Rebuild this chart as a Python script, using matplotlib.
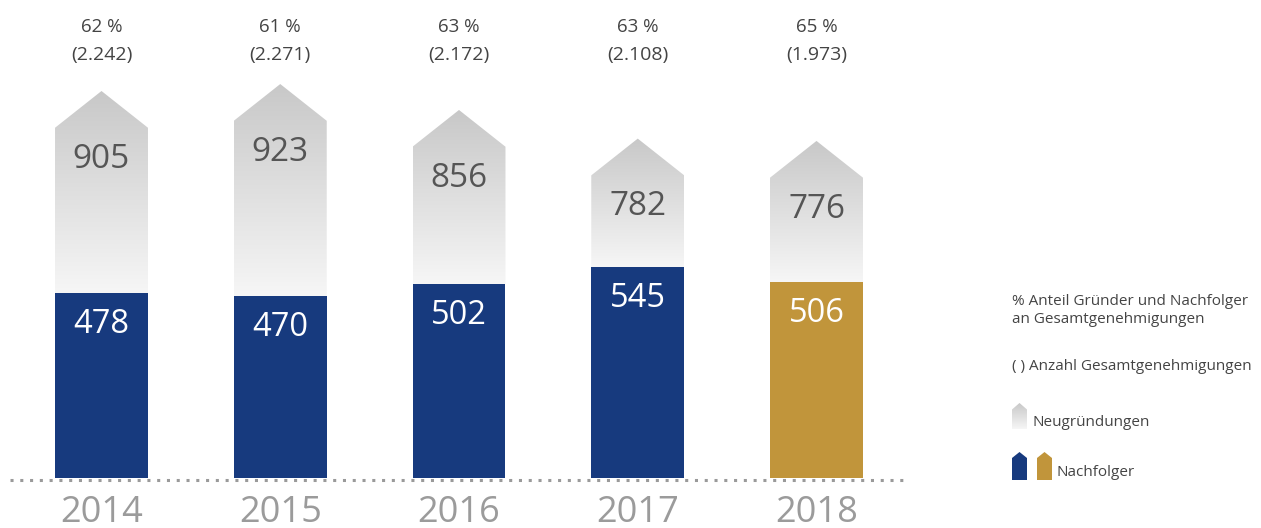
import matplotlib
matplotlib.use('Agg')
import matplotlib.pyplot as plt
import numpy as np
from matplotlib.patches import Polygon
from matplotlib.colors import LinearSegmentedColormap

years = ['2014', '2015', '2016', '2017', '2018']
neugruendungen = [905, 923, 856, 782, 776]
nachfolger = [478, 470, 502, 545, 506]
anteil = ['62 %', '61 %', '63 %', '63 %', '65 %']
gesamt = ['(2.242)', '(2.271)', '(2.172)', '(2.108)', '(1.973)']

plt.rcParams['font.family'] = ['Open Sans', 'DejaVu Sans']

W, H = 1261, 528
px = 0.387          # pixels per unit
base_px = 478       # baseline, pixels from top
step_px = 178.75    # pixels between bar centres
first_px = 101.5

blue = '#173a7e'
gold = '#c1953b'
fade = LinearSegmentedColormap.from_list('fade', ['#c8c8c8', '#f6f6f6'])
grad = np.linspace(0, 1, 256).reshape(-1, 1)

fig = plt.figure(figsize=(W / 100, H / 100), dpi=100)
ax = fig.add_axes([0, 0, 1, 1])
ax.set_axis_off()

width = 0.52
roof = 95

# gray houses with gradient, drawn behind the Nachfolger bars
for i, (neu, nach) in enumerate(zip(neugruendungen, nachfolger)):
    x0, x1 = i - width / 2, i + width / 2
    house = Polygon([(x0, 0), (x1, 0), (x1, neu), (i, neu + roof), (x0, neu)],
                    closed=True, facecolor='none', edgecolor='none')
    ax.add_patch(house)
    im = ax.imshow(grad, cmap=fade, aspect='auto', origin='upper',
                   extent=(x0, x1, nach, neu + roof), zorder=1)
    im.set_clip_path(house)
    ax.text(i, neu - 103, str(neu), ha='center', va='baseline',
            fontsize=24, color='#555555', zorder=4)

colors = [blue, blue, blue, blue, gold]
ax.bar(range(len(years)), nachfolger, width=width, color=colors, zorder=2)
for i, nach in enumerate(nachfolger):
    ax.text(i, nach - 103, str(nach), ha='center', va='baseline',
            fontsize=23.5, color='white', zorder=4)

for i in range(len(years)):
    ax.text(i, -114, years[i], ha='center', va='baseline',
            fontsize=26, color='#9b9b9b')
    ax.text(i, 1152, anteil[i], ha='center', va='baseline',
            fontsize=13.5, color='#444444')
    ax.text(i, 1080, gesamt[i], ha='center', va='baseline',
            fontsize=14, color='#444444')

ax.plot([-0.51, 4.51], [-5, -5], color='#9a9a9a', linewidth=2.2,
        linestyle=(0, (1, 2.2)), dash_capstyle='butt', zorder=5)

ax.set_xlim(-first_px / step_px, (W - first_px) / step_px)
ax.set_ylim(-(H - base_px) / px, base_px / px)


# legend on the right
def fx(x):
    return x / W


def fy(y):
    return 1 - y / H


legend_color = '#444444'
fig.text(fx(1012), fy(305), '% Anteil Gründer und Nachfolger', fontsize=11,
         color=legend_color, va='baseline')
fig.text(fx(1012), fy(323), 'an Gesamtgenehmigungen', fontsize=11,
         color=legend_color, va='baseline')
fig.text(fx(1012), fy(370), '( ) Anzahl Gesamtgenehmigungen', fontsize=11,
         color=legend_color, va='baseline')
fig.text(fx(1033), fy(426), 'Neugründungen', fontsize=11,
         color=legend_color, va='baseline')
fig.text(fx(1057), fy(476), 'Nachfolger', fontsize=11,
         color=legend_color, va='baseline')


def icon(x, top, bottom, w=15, r=6, color=blue):
    verts = [(fx(x), fy(bottom)), (fx(x + w), fy(bottom)), (fx(x + w), fy(top + r)),
             (fx(x + w / 2), fy(top)), (fx(x), fy(top + r))]
    fig.patches.append(Polygon(verts, closed=True, facecolor=color,
                               edgecolor='none', transform=fig.transFigure))


# gray icon with gradient
iax = fig.add_axes([fx(1012), fy(429), fx(15), (429 - 403) / H])
iax.set_axis_off()
ip = Polygon([(0, 0), (1, 0), (1, 0.75), (0.5, 1), (0, 0.75)], closed=True,
             facecolor='none', edgecolor='none')
iax.add_patch(ip)
iim = iax.imshow(grad, cmap=fade, aspect='auto', origin='upper', extent=(0, 1, 0, 1))
iim.set_clip_path(ip)
iax.set_xlim(0, 1)
iax.set_ylim(0, 1)

icon(1012, 452, 480, color=blue)
icon(1037, 452, 480, color=gold)

fig.savefig('out.png', dpi=100)
